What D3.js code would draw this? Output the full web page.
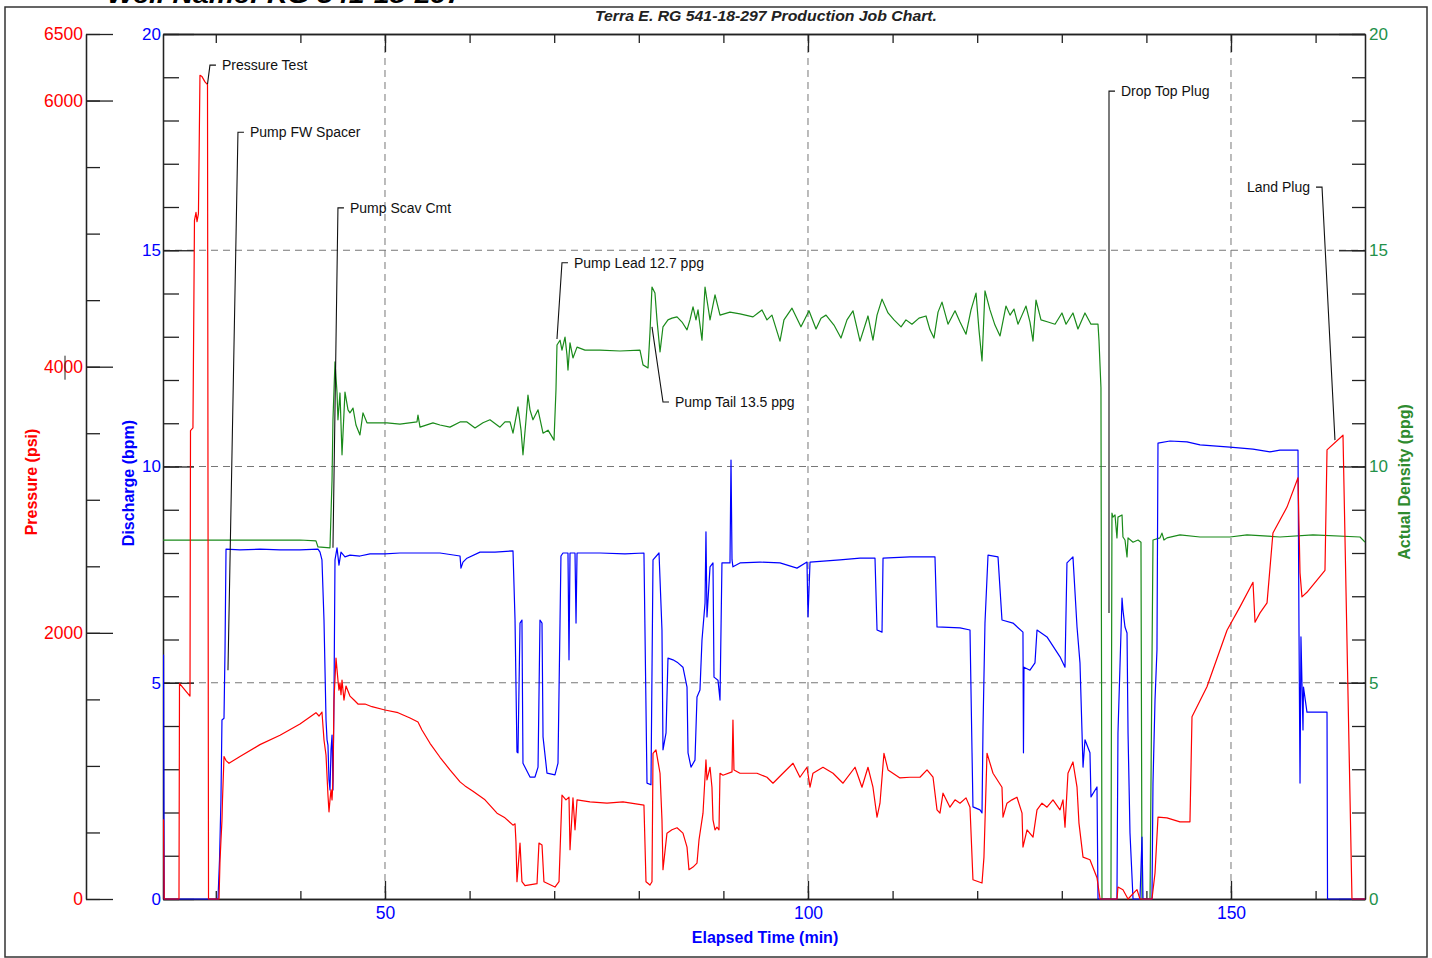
<!DOCTYPE html>
<html>
<head>
<meta charset="utf-8">
<script src="https://cdn.jsdelivr.net/npm/d3@7"></script>
<style>
  html, body { margin: 0; padding: 0; background: #fff; }
  svg { display: block; font-family: Arial, "Liberation Sans", sans-serif; }
</style>
</head>
<body>
<svg id="chart" width="1432" height="958"></svg>
<script>
// job chart data, [elapsed min, value]
var pressurePsi = [[23.76,600],[23.82,590],[23.90,0],[25.65,0],[25.71,1620],[26.36,1570],[26.95,1525],[27.01,3520],[27.30,3540],[27.48,5100],[27.66,5160],[27.78,5090],[27.95,5150],[28.13,6190],[28.37,6180],[28.72,6140],[29.02,6120],[29.14,0],[30.38,0],[30.50,290],[30.61,440],[30.73,590],[30.79,740],[30.97,1070],[31.21,1040],[31.56,1020],[32.86,1070],[35.22,1160],[37.59,1230],[39.95,1315],[41.84,1400],[42.20,1375],[42.55,1405],[42.79,1195],[43.03,1080],[43.26,780],[43.38,655],[43.50,745],[43.62,820],[43.74,745],[43.85,895],[43.97,1495],[44.21,1810],[44.44,1645],[44.56,1570],[44.68,1625],[44.80,1535],[44.92,1645],[45.15,1495],[45.39,1600],[45.86,1525],[46.34,1495],[46.81,1465],[47.64,1465],[48.46,1445],[50.00,1420],[51.54,1400],[52.96,1360],[53.90,1330],[54.37,1270],[55.32,1170],[56.50,1065],[57.68,970],[58.87,880],[59.46,850],[60.40,810],[61.82,745],[63.24,645],[64.18,610],[65.13,555],[65.37,565],[65.48,430],[65.60,130],[65.96,420],[66.19,130],[66.55,100],[67.97,115],[68.20,420],[68.56,405],[68.79,130],[70.09,90],[70.57,130],[70.92,780],[71.39,745],[71.75,765],[71.87,370],[72.22,760],[72.46,520],[72.70,745],[74.23,730],[76.24,720],[78.13,730],[80.61,705],[80.85,130],[81.32,105],[81.56,130],[81.68,1095],[82.03,1120],[82.51,945],[82.74,595],[82.86,220],[83.33,495],[83.92,520],[84.52,535],[85.22,495],[85.70,390],[85.93,220],[86.41,240],[86.88,270],[87.12,445],[87.47,595],[87.59,645],[87.94,1045],[88.06,895],[88.42,990],[88.65,840],[88.77,595],[89.01,520],[89.24,540],[89.48,520],[89.60,945],[89.95,930],[91.02,955],[91.13,1345],[91.25,970],[91.96,945],[93.97,945],[95.15,915],[95.86,870],[97.04,945],[98.23,1020],[99.05,915],[99.88,990],[100.24,840],[100.59,945],[101.77,990],[102.96,945],[104.14,870],[105.56,990],[106.38,840],[107.09,990],[107.68,840],[108.16,615],[108.51,720],[108.98,1095],[109.46,970],[110.87,910],[112.06,915],[113.24,915],[114.07,970],[114.78,915],[115.25,670],[115.60,645],[115.96,795],[116.78,690],[117.38,745],[117.97,720],[118.68,760],[119.15,690],[119.50,145],[120.57,120],[120.80,315],[121.16,1095],[121.87,945],[122.93,840],[123.05,615],[123.52,720],[124.11,745],[124.70,765],[125.30,645],[125.41,390],[125.89,520],[126.60,465],[127.07,670],[127.66,720],[128.25,690],[128.96,745],[129.79,670],[130.14,745],[130.38,540],[130.73,945],[131.32,1030],[131.80,840],[132.03,570],[132.51,315],[133.33,295],[134.16,160],[134.52,0],[136.53,0],[136.64,90],[137.23,70],[137.83,0],[138.65,55],[138.89,70],[139.24,0],[140.66,0],[141.02,195],[141.37,615],[142.43,610],[143.97,580],[145.15,580],[145.39,1370],[147.16,1595],[149.53,2020],[151.06,2195],[152.60,2380],[152.84,2080],[153.43,2150],[154.26,2225],[154.96,2750],[156.62,2945],[157.92,3165],[158.16,2450],[158.39,2270],[158.98,2305],[161.11,2470],[161.35,3375],[163.24,3485],[164.30,0],[165.84,0]];

var dischargeBpm = [[23.76,5.64],[23.82,5.64],[23.90,0],[30.26,0],[30.44,0.90],[30.61,2.29],[30.73,4.14],[30.97,4.18],[31.09,5.76],[31.21,8.09],[32.86,8.07],[35.22,8.09],[37.59,8.07],[39.95,8.07],[42.08,8.09],[42.32,8.02],[42.55,7.84],[42.79,6.45],[43.03,4.14],[43.15,3.68],[43.26,3.56],[43.38,2.75],[43.50,2.52],[43.62,3.45],[43.74,3.79],[43.85,2.52],[43.97,4.60],[44.09,7.84],[44.33,8.12],[44.56,7.72],[44.80,8.02],[45.27,7.91],[45.86,7.95],[47.04,7.93],[48.23,7.98],[50.00,7.98],[51.77,8.00],[54.14,8.00],[56.50,8.00],[58.87,7.93],[58.98,7.65],[59.22,7.79],[59.69,7.88],[61.23,8.02],[63.00,8.02],[65.13,8.05],[65.37,6.45],[65.60,3.40],[65.72,3.38],[65.96,6.38],[66.19,6.45],[66.31,3.14],[67.14,2.82],[67.73,2.82],[68.09,3.05],[68.32,6.45],[68.56,6.38],[68.68,3.75],[69.15,2.91],[70.09,2.87],[70.45,3.14],[70.80,7.93],[71.04,8.00],[71.63,8.00],[71.75,5.53],[71.87,8.00],[72.46,8.00],[72.58,6.38],[72.70,8.00],[75.41,8.00],[78.37,7.98],[80.61,8.00],[80.97,2.68],[81.44,2.64],[81.68,7.84],[82.39,8.00],[82.74,6.22],[82.86,3.45],[83.22,3.84],[83.45,5.57],[84.04,5.53],[84.63,5.46],[85.22,5.36],[85.70,4.90],[85.82,3.38],[86.17,3.05],[86.64,3.21],[86.88,4.67],[87.23,4.83],[87.47,5.99],[87.83,6.84],[87.94,8.49],[88.06,6.52],[88.42,7.68],[88.77,7.77],[88.89,5.13],[89.36,5.06],[89.60,4.60],[89.83,7.77],[90.78,7.77],[90.90,10.15],[91.02,7.84],[91.13,7.68],[91.96,7.77],[94.33,7.79],[96.69,7.77],[98.70,7.65],[99.88,7.79],[100.00,6.52],[100.24,7.79],[103.78,7.84],[106.15,7.88],[107.92,7.88],[108.16,6.22],[108.75,6.17],[108.87,7.88],[112.06,7.91],[115.01,7.91],[115.25,6.29],[117.97,6.27],[119.15,6.22],[119.39,3.38],[119.50,2.13],[120.33,2.06],[120.57,1.99],[120.69,3.98],[120.92,6.38],[121.28,7.95],[122.46,7.91],[122.93,6.45],[124.23,6.38],[125.41,6.17],[125.47,3.38],[125.53,5.36],[126.24,5.29],[126.83,5.46],[127.07,6.22],[128.25,6.06],[129.79,5.60],[130.38,5.36],[130.61,7.77],[131.32,7.91],[131.80,6.29],[132.15,5.46],[132.51,3.05],[132.74,3.68],[133.33,3.38],[133.45,2.36],[134.16,2.59],[134.28,0],[136.52,0],[136.64,3.84],[137.12,6.96],[137.23,6.68],[137.47,6.29],[137.71,6.15],[137.83,3.84],[138.06,1.53],[138.42,0],[139.24,0],[139.48,1.43],[139.60,0],[140.66,0],[140.78,2.68],[141.02,4.60],[141.25,5.76],[141.37,10.54],[142.79,10.59],[144.80,10.57],[146.34,10.50],[149.88,10.45],[152.60,10.40],[154.61,10.34],[155.79,10.38],[157.92,10.38],[158.04,6.15],[158.16,2.68],[158.27,6.06],[158.51,3.91],[158.57,4.90],[158.98,4.32],[161.35,4.32],[161.41,0],[165.84,0]];

var densityPpg = [[23.76,8.30],[28.13,8.30],[34.04,8.30],[39.95,8.30],[41.84,8.28],[42.08,8.14],[43.50,8.12],[43.74,9.69],[43.85,11.08],[44.09,12.42],[44.33,11.70],[44.44,11.08],[44.68,11.70],[44.92,10.27],[45.27,11.72],[45.63,11.31],[45.86,11.24],[46.22,11.35],[46.57,10.96],[47.04,10.73],[47.40,11.24],[47.87,11.01],[50.24,11.01],[51.77,10.98],[53.78,11.03],[53.90,11.19],[54.14,10.91],[55.67,11.01],[56.50,10.96],[57.68,10.91],[58.87,11.03],[59.69,11.03],[60.64,10.89],[61.58,11.01],[62.41,11.08],[63.59,10.91],[64.18,11.03],[64.78,11.03],[65.13,10.77],[65.72,11.38],[66.08,10.84],[66.31,10.27],[66.67,11.08],[66.90,11.65],[67.14,11.31],[67.49,11.08],[68.09,11.31],[68.68,10.77],[69.27,10.84],[69.98,10.61],[70.21,11.77],[70.33,12.81],[70.69,12.92],[70.92,12.69],[71.28,12.99],[71.51,12.58],[71.63,12.23],[71.87,12.86],[72.22,12.51],[72.70,12.76],[73.64,12.69],[75.41,12.69],[77.78,12.67],[80.14,12.69],[80.50,12.35],[81.09,12.28],[81.32,13.09],[81.56,14.15],[81.91,14.01],[82.15,13.39],[82.51,12.65],[82.86,13.23],[83.45,13.39],[83.92,13.43],[84.52,13.46],[85.11,13.34],[85.70,13.16],[86.05,13.39],[86.41,13.69],[86.76,13.39],[87.00,13.62],[87.47,12.92],[87.83,14.15],[88.06,13.85],[88.42,13.39],[89.01,13.97],[89.60,13.50],[90.78,13.57],[91.96,13.53],[93.50,13.46],[94.09,13.55],[94.56,13.62],[95.15,13.39],[95.74,13.50],[96.69,12.90],[97.16,13.39],[98.11,13.66],[99.17,13.23],[100.12,13.60],[100.95,13.18],[101.54,13.43],[102.13,13.50],[103.07,13.27],[103.90,12.97],[104.61,13.39],[105.32,13.60],[106.15,12.90],[107.09,13.48],[107.68,12.92],[108.16,13.50],[108.75,13.87],[109.46,13.55],[110.17,13.39],[111.00,13.23],[111.58,13.39],[112.29,13.29],[113.12,13.43],[113.95,13.48],[114.42,13.16],[114.89,12.97],[115.37,13.57],[115.84,13.80],[116.55,13.29],[117.38,13.60],[117.97,13.34],[118.68,13.06],[119.27,13.62],[119.86,14.01],[120.21,13.16],[120.57,12.44],[120.92,14.06],[121.51,13.62],[122.10,13.27],[122.70,13.02],[123.40,13.71],[123.88,13.50],[124.35,13.64],[124.82,13.29],[125.30,13.50],[125.77,13.71],[126.24,13.34],[126.60,12.90],[126.95,13.85],[127.54,13.39],[128.37,13.34],[129.20,13.29],[130.02,13.55],[130.50,13.29],[131.32,13.55],[131.91,13.18],[132.74,13.55],[133.45,13.29],[134.28,13.29],[134.40,12.90],[134.63,11.82],[134.75,0],[135.81,0],[135.93,8.92],[136.05,8.83],[136.29,8.88],[136.52,8.35],[136.64,8.83],[137.12,8.88],[137.23,8.37],[137.47,8.30],[137.71,7.91],[137.83,8.35],[138.42,8.25],[139.01,8.30],[139.36,8.25],[139.48,0],[140.43,0],[140.78,8.30],[141.61,8.35],[141.84,8.46],[142.08,8.30],[142.43,8.35],[143.97,8.42],[146.34,8.37],[147.87,8.37],[149.88,8.37],[151.89,8.42],[155.79,8.37],[159.69,8.42],[165.25,8.37],[165.84,8.25]];

// tick values
var pressureMajor = [0, 2000, 4000, 6000, 6500];
var rateMajor = [0, 5, 10, 15, 20];
var timeMajor = [50, 100, 150];

// event markers: label, trace end [min, bpm], label end [min, bpm]
var eventLabels = ['Pressure Test', 'Pump FW Spacer', 'Pump Scav Cmt', 'Pump Lead 12.7 ppg', 'Pump Tail 13.5 ppg', 'Drop Top Plug', 'Land Plug'];
var eventFrom = [[29.02,18.84],[31.44,5.29],[43.85,8.12],[70.33,12.95],[81.56,13.23],[135.58,6.61],[162.29,10.61]];
var eventTo = [[29.31,19.28],[32.62,17.73],[44.44,15.98],[70.92,14.71],[82.86,11.49],[135.58,18.68],[160.76,16.46]];
var eventLeft = [false, false, false, false, false, false, true];

var red = '#ff0000', blue = '#0000ff', green = '#1a8a1a';
// plot box (window.top is read-only, so no bare "top")
var box = { left: 163, right: 1365, top: 34, bottom: 899 };
var pAxisX = 86;

var svg = d3.select('#chart');

var x = d3.scaleLinear().domain([23.76, 165.84]).range([box.left, box.right]);
var yP = d3.scaleLinear().domain([0, 6500]).range([box.bottom, box.top]);
var yQ = d3.scaleLinear().domain([0, 20]).range([box.bottom, box.top]);
var yD = d3.scaleLinear().domain([0, 20]).range([box.bottom, box.top]);

// outer frame + headings
svg.append('rect').attr('x', 5).attr('y', 7).attr('width', 1422).attr('height', 950)
  .attr('fill', 'none').attr('stroke', '#333').attr('stroke-width', 1.5);

svg.append('text').attr('x', 107).attr('y', 3)
  .attr('font-size', 24).attr('font-weight', 'bold').attr('font-style', 'italic')
  .attr('textLength', 355).attr('lengthAdjust', 'spacingAndGlyphs')
  .text('Well Name: RG 541-18-297');

svg.append('text').attr('x', 595).attr('y', 21)
  .attr('font-size', 15).attr('font-weight', 'bold').attr('font-style', 'italic').attr('fill', '#222')
  .attr('textLength', 342).attr('lengthAdjust', 'spacingAndGlyphs')
  .text('Terra E. RG 541-18-297 Production Job Chart.');

// dashed grid
var grid = svg.append('g').attr('stroke', '#777').attr('stroke-width', 1).attr('stroke-dasharray', '7,5');
grid.selectAll('line.v').data(timeMajor).enter().append('line')
  .attr('x1', function(d) { return x(d); }).attr('x2', function(d) { return x(d); })
  .attr('y1', box.top).attr('y2', box.bottom);
grid.selectAll('line.h').data(rateMajor.slice(1, 4)).enter().append('line')
  .attr('y1', function(d) { return yQ(d); }).attr('y2', function(d) { return yQ(d); })
  .attr('x1', box.left).attr('x2', box.right);

function styleAxis(g, color, size) {
  g.selectAll('g').attr('font-family', null).attr('font-size', null);
  g.selectAll('line, path').attr('stroke', '#222').attr('stroke-width', 1.3);
  g.selectAll('text').attr('fill', color).attr('font-size', size);
}

var plain = d3.format('d');

// pressure axis
var gp = svg.append('g').attr('transform', 'translate(' + pAxisX + ',0)');
gp.append('g').call(d3.axisLeft(yP).tickValues(d3.range(0, 6501, 500)).tickSize(-14).tickSizeOuter(0).tickFormat(''));
gp.append('g').call(d3.axisLeft(yP).tickValues(pressureMajor).tickSize(-27).tickSizeOuter(0).tickPadding(3).tickFormat(plain));
styleAxis(gp, red, 17.5);
gp.append('line').attr('x1', -21).attr('x2', -21)
  .attr('y1', yP(4000) - 11).attr('y2', yP(4000) + 13).attr('stroke', '#222');

// discharge axis
var gq = svg.append('g').attr('transform', 'translate(' + box.left + ',0)');
gq.append('g').call(d3.axisLeft(yQ).tickValues(d3.range(0, 21, 1)).tickSize(-16).tickSizeOuter(0).tickFormat(''));
gq.append('g').call(d3.axisLeft(yQ).tickValues(rateMajor).tickSize(-31).tickSizeOuter(0).tickPadding(2).tickFormat(plain));
styleAxis(gq, blue, 17);

// density axis
var gd = svg.append('g').attr('transform', 'translate(' + box.right + ',0)');
gd.append('g').call(d3.axisRight(yD).tickValues(d3.range(0, 21, 1)).tickSize(-13).tickSizeOuter(0).tickFormat(''));
gd.append('g').call(d3.axisRight(yD).tickValues(rateMajor).tickSize(-26).tickSizeOuter(0).tickPadding(4).tickFormat(plain));
styleAxis(gd, '#23914a', 17);

// time axes top and bottom
var gt = svg.append('g').attr('transform', 'translate(0,' + box.top + ')');
gt.append('g').call(d3.axisTop(x).tickValues(d3.range(30, 161, 10)).tickSize(-9).tickSizeOuter(0).tickFormat(''));
gt.append('g').call(d3.axisTop(x).tickValues(timeMajor).tickSize(-18).tickSizeOuter(0).tickFormat(''));
styleAxis(gt, blue, 17);

var gb = svg.append('g').attr('transform', 'translate(0,' + box.bottom + ')');
gb.append('g').call(d3.axisBottom(x).tickValues(d3.range(30, 161, 10)).tickSize(-8).tickSizeOuter(0).tickFormat(''));
gb.append('g').call(d3.axisBottom(x).tickValues(timeMajor).tickSize(-18).tickSizeOuter(0).tickPadding(8).tickFormat(plain));
styleAxis(gb, blue, 17.5);

// axis titles
svg.append('text').attr('transform', 'translate(31,482) rotate(-90)').attr('dy', '0.35em')
  .attr('text-anchor', 'middle').attr('font-size', 16).attr('font-weight', 'bold').attr('fill', red)
  .text('Pressure (psi)');
svg.append('text').attr('transform', 'translate(128,483) rotate(-90)').attr('dy', '0.35em')
  .attr('text-anchor', 'middle').attr('font-size', 16).attr('font-weight', 'bold').attr('fill', blue)
  .text('Discharge (bpm)');
svg.append('text').attr('transform', 'translate(1404,482) rotate(-90)').attr('dy', '0.35em')
  .attr('text-anchor', 'middle').attr('font-size', 16).attr('font-weight', 'bold').attr('fill', '#2e8b2e')
  .text('Actual Density (ppg)');
svg.append('text').attr('x', (box.left + box.right) / 2 + 1).attr('y', 937).attr('dy', '0.35em')
  .attr('text-anchor', 'middle').attr('font-size', 16).attr('font-weight', 'bold').attr('fill', blue)
  .text('Elapsed Time (min)');

// traces
svg.append('clipPath').attr('id', 'plotClip').append('rect')
  .attr('x', box.left).attr('y', box.top - 2)
  .attr('width', box.right - box.left).attr('height', box.bottom - box.top + 4);
var traces = svg.append('g').attr('clip-path', 'url(#plotClip)')
  .attr('fill', 'none').attr('stroke-width', 1.2).attr('stroke-linejoin', 'round');

function lineFor(yScale) {
  return d3.line().x(function(d) { return x(d[0]); }).y(function(d) { return yScale(d[1]); });
}
traces.append('path').datum(densityPpg).attr('stroke', green).attr('d', lineFor(yD));
traces.append('path').datum(dischargeBpm).attr('stroke', blue).attr('d', lineFor(yQ));
traces.append('path').datum(pressurePsi).attr('stroke', red).attr('d', lineFor(yP));

// event markers
var ev = svg.append('g');
eventLabels.forEach(function(label, i) {
  var x0 = x(eventFrom[i][0]), y0 = yQ(eventFrom[i][1]);
  var x1 = x(eventTo[i][0]), y1 = yQ(eventTo[i][1]);
  var dir = eventLeft[i] ? -1 : 1;
  ev.append('path')
    .attr('d', 'M' + x0 + ',' + y0 + 'L' + x1 + ',' + y1 + 'L' + (x1 + dir * 6) + ',' + y1)
    .attr('fill', 'none').attr('stroke', '#111').attr('stroke-width', 1.1);
  ev.append('text').attr('x', x1 + dir * 12).attr('y', y1).attr('dy', '0.35em')
    .attr('text-anchor', eventLeft[i] ? 'end' : 'start')
    .attr('font-size', 14).attr('fill', '#111')
    .text(label);
});
</script>
</body>
</html>
